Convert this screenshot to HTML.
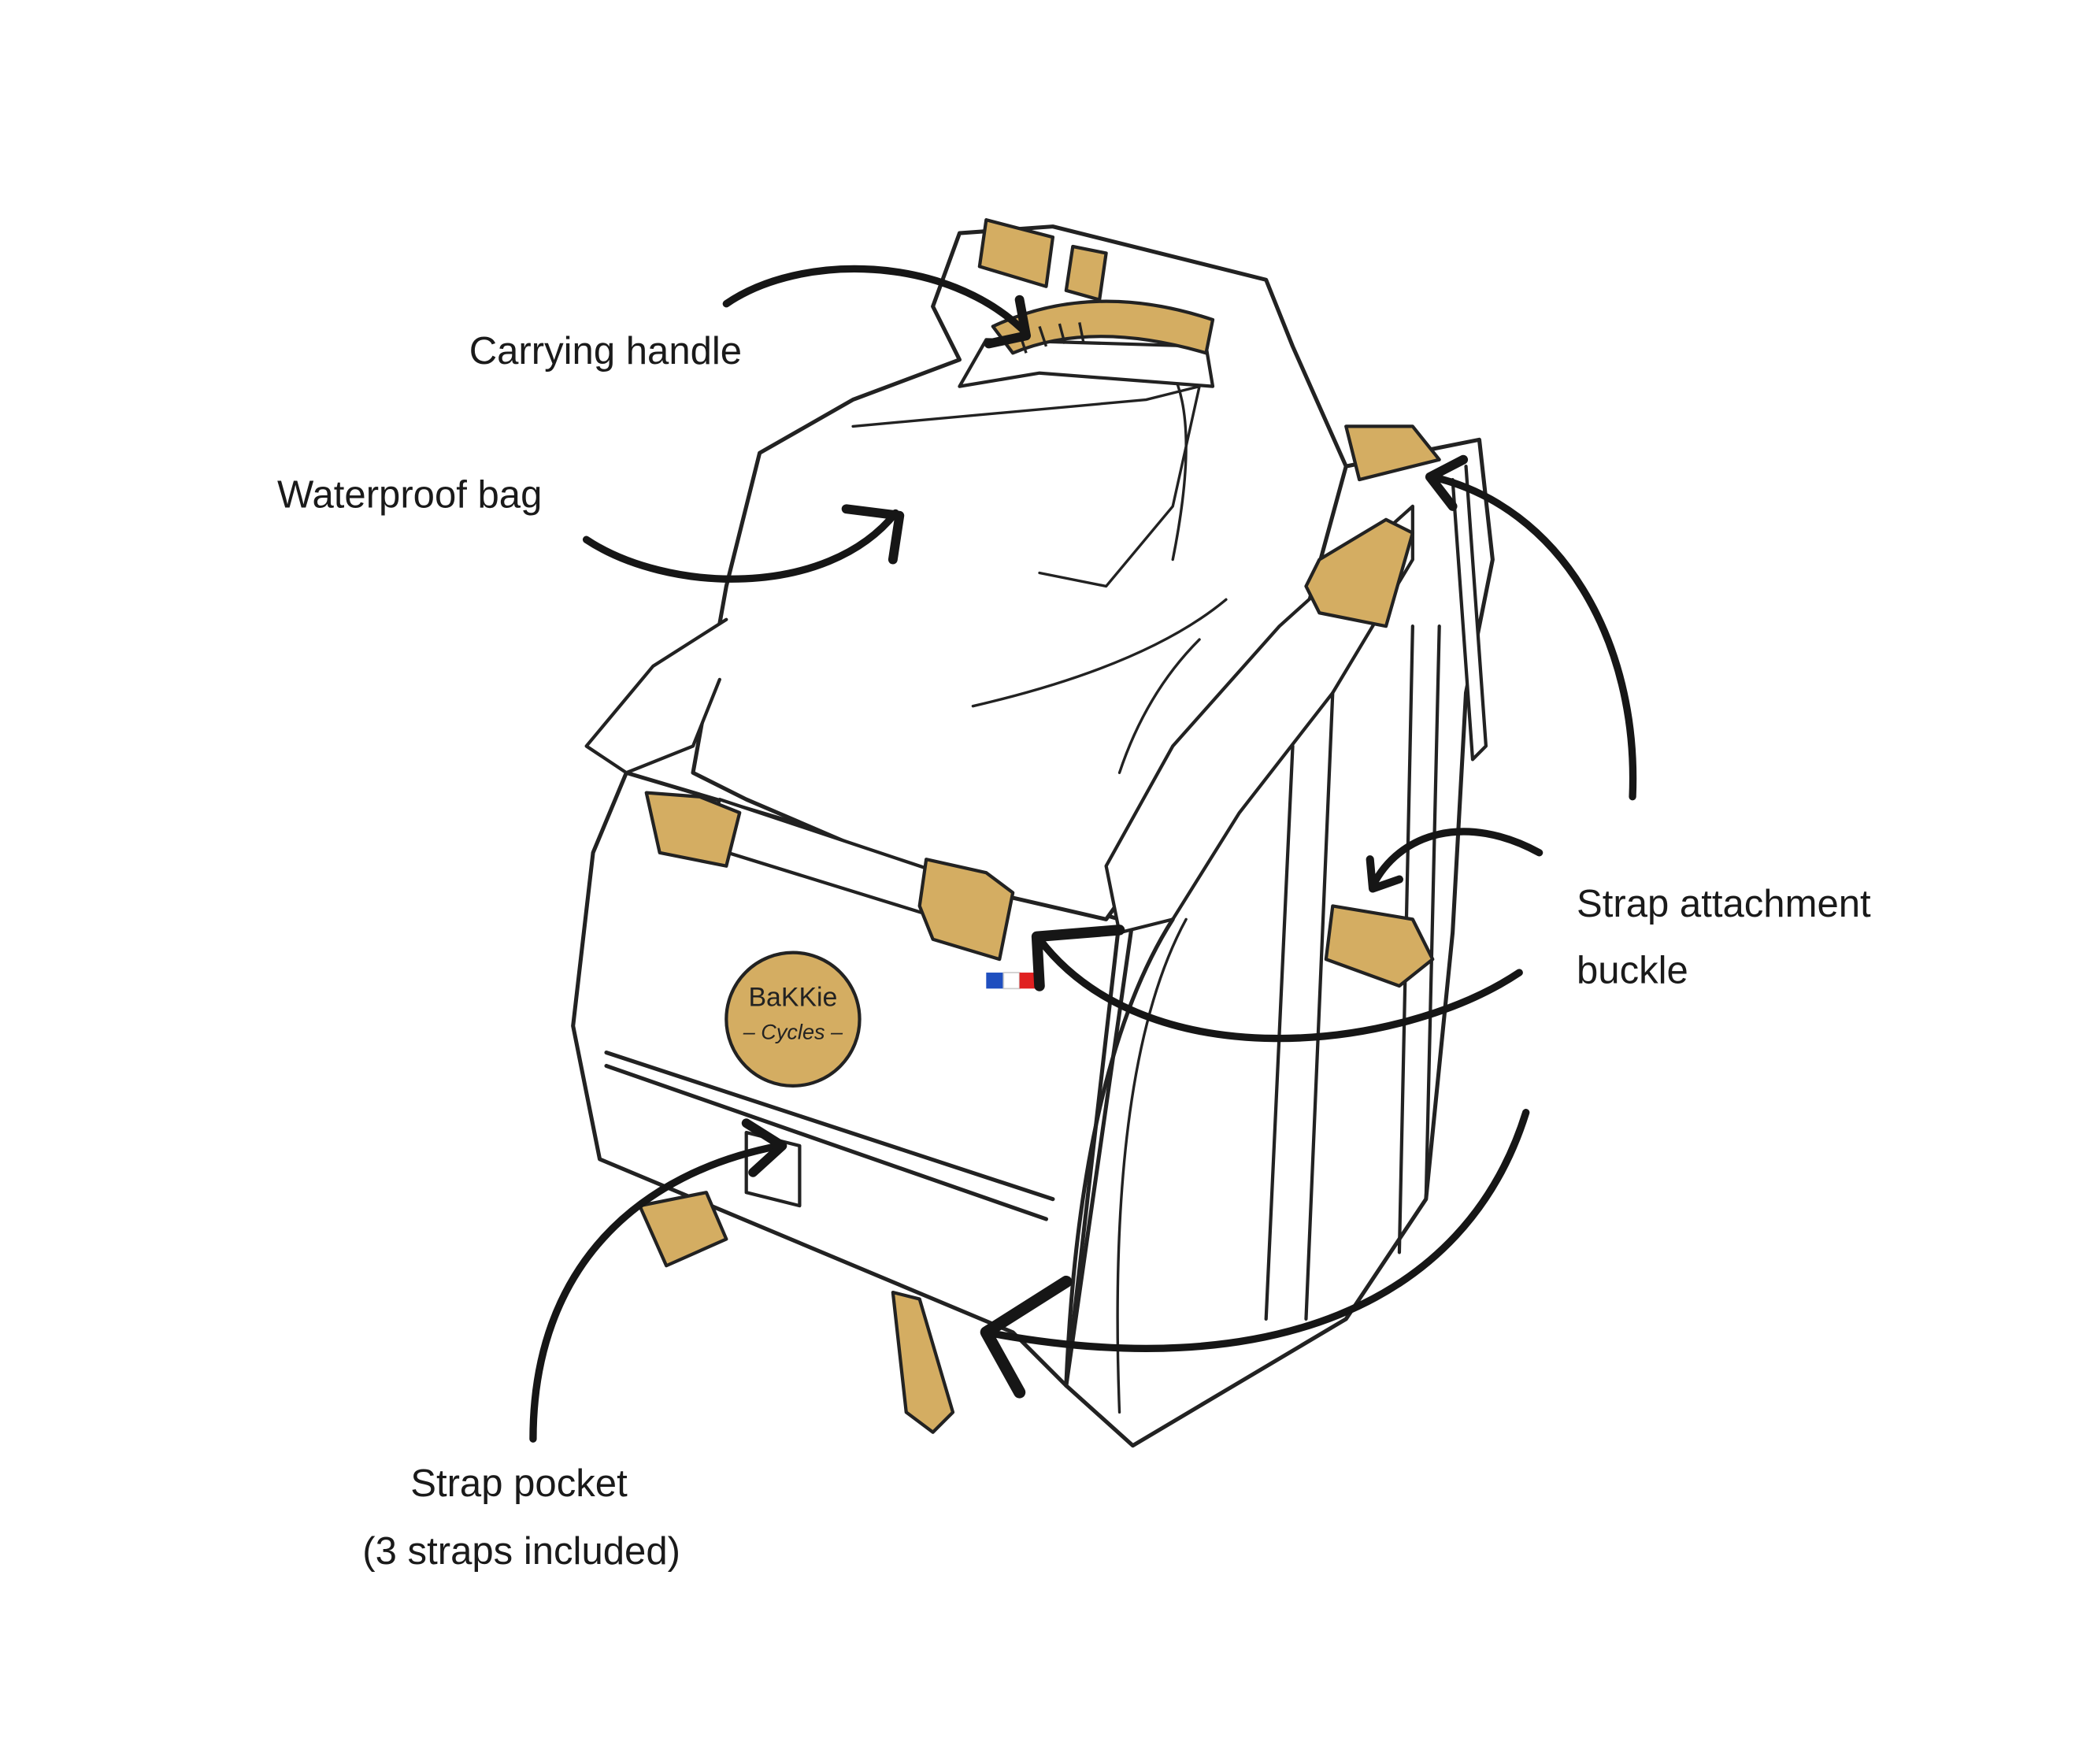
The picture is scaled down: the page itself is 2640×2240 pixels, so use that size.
<!DOCTYPE html>
<html><head><meta charset="utf-8"><style>
html,body{margin:0;padding:0;background:#fff;width:2640px;height:2240px;overflow:hidden}
svg{display:block}
text{font-family:"Liberation Sans",sans-serif;fill:#1a1a1a}
</style></head><body>
<svg width="2640" height="2240" viewBox="0 0 1560 1324" preserveAspectRatio="none" xmlns="http://www.w3.org/2000/svg">
<g fill="#fff" stroke="#222" stroke-width="3" stroke-linejoin="round" stroke-linecap="round">
<path d="M860,620 L960,470 L1010,350 L1110,330 L1120,420 L1100,520 L1090,700 L1070,900 L1010,990 L850,1085 L800,1040 Z"/>
<path d="M470,580 L840,690 L800,1040 L760,1000 L450,870 L430,770 L445,640 Z"/>
<path d="M455,790 L790,900 M455,800 L785,915" fill="none"/>
<path d="M520,580 L545,440 L570,340 L640,300 L720,270 L700,230 L720,175 L790,170 L950,210 L970,260 L1010,350 L980,460 L880,620 L830,690 L700,660 L560,600 Z"/>
<path d="M640,320 L860,300 L900,290 L880,380 L830,440 L780,430" fill="none" stroke-width="2"/>
<path d="M730,530 Q860,500 920,450 M840,580 Q860,520 900,480 M880,280 Q900,320 880,420" fill="none" stroke-width="2"/>
<path d="M720,290 L780,280 L910,290 L905,260 L740,255 Z" stroke-width="2.5"/>
<path d="M545,465 L490,500 L440,560 L470,580 L520,560 L540,510" stroke-width="2.5"/>
<path d="M1060,380 L960,470 L880,560 L830,650 L840,700 L880,690 L930,610 L1000,520 L1060,420 Z" stroke-width="2.5"/>
<path d="M970,560 L950,990 M1000,520 L980,990 M1060,470 L1050,940 M1080,470 L1070,900" fill="none" stroke-width="2.5"/>
<path d="M800,1040 Q810,800 880,690" fill="none"/>
<path d="M840,1060 Q830,800 890,690" fill="none" stroke-width="2"/>
<path d="M540,600 L750,670 L740,700 L530,635 Z" stroke-width="2.5"/>
<path d="M560,850 L600,860 L600,905 L560,895 Z" stroke-width="2.5"/>
<path d="M1100,350 L1115,560 L1105,570 L1090,360" stroke-width="2.5"/>
</g>
<g fill="#d4ad62" stroke="#222" stroke-width="2.5" stroke-linejoin="round">
<path d="M740,165 L790,178 L785,215 L735,200 Z"/>
<path d="M805,185 L830,190 L825,225 L800,218 Z"/>
<path d="M745,245 Q820,210 910,240 L905,265 Q820,240 760,265 Z"/>
<path d="M485,595 L525,598 L555,610 L545,650 L495,640 Z"/>
<path d="M695,645 L740,655 L760,670 L750,720 L700,705 L690,680 Z"/>
<path d="M990,420 L1040,390 L1060,400 L1040,470 L990,460 L980,440 Z"/>
<path d="M1010,320 L1060,320 L1080,345 L1020,360 Z"/>
<path d="M1000,680 L1060,690 L1075,720 L1050,740 L995,720 Z"/>
<path d="M480,905 L530,895 L545,930 L500,950 Z"/>
<path d="M670,970 L690,975 L715,1060 L700,1075 L680,1060 Z"/>
<circle cx="595" cy="765" r="50"/>
</g>
<g fill="none" stroke="#222" stroke-width="2">
<path d="M765,250 l5,15 M780,245 l5,15 M795,243 l4,15 M810,242 l3,15"/>
</g>
<text x="595" y="755" font-size="20" text-anchor="middle" style="fill:#222">BaKKie</text>
<text x="595" y="780" font-size="16" text-anchor="middle" font-style="italic" style="fill:#222">– Cycles –</text>
<rect x="740" y="730" width="13" height="12" fill="#1f4fbf"/><rect x="753" y="730" width="12" height="12" fill="#fff" stroke="#ccc"/><rect x="765" y="730" width="13" height="12" fill="#e02020"/>
<g fill="none" stroke="#161616" stroke-width="5.5" stroke-linecap="round" stroke-linejoin="round">
<path d="M545,228 C600,190 710,190 770,250"/><path d="M765,225 L770,252 L742,258" stroke-width="7"/>
<path d="M440,405 C500,445 620,450 672,385"/><path d="M635,382 L675,387 L670,420" stroke-width="7"/>
<path d="M1225,598 C1230,480 1170,380 1075,358"/><path d="M1098,345 L1073,358 L1090,380" stroke-width="7"/>
<path d="M1155,640 C1100,610 1050,625 1030,665"/><path d="M1028,645 L1030,667 L1050,660" stroke-width="6"/>
<path d="M1140,730 C1050,790 860,810 780,705"/><path d="M780,740 L778,703 L840,698" stroke-width="8"/>
<path d="M1145,835 C1100,980 950,1040 740,1000"/><path d="M800,962 L740,1000 L765,1045" stroke-width="9"/>
<path d="M400,1080 C400,950 480,880 585,860"/><path d="M560,843 L587,860 L565,880" stroke-width="7"/>
</g>
<text x="352" y="273" font-size="29">Carrying handle</text>
<text x="208" y="381" font-size="29">Waterproof bag</text>
<text x="1183" y="688" font-size="29">Strap attachment</text>
<text x="1183" y="738" font-size="29">buckle</text>
<text x="308" y="1123" font-size="29">Strap pocket</text>
<text x="272" y="1174" font-size="29">(3 straps included)</text>
</svg>
</body></html>
